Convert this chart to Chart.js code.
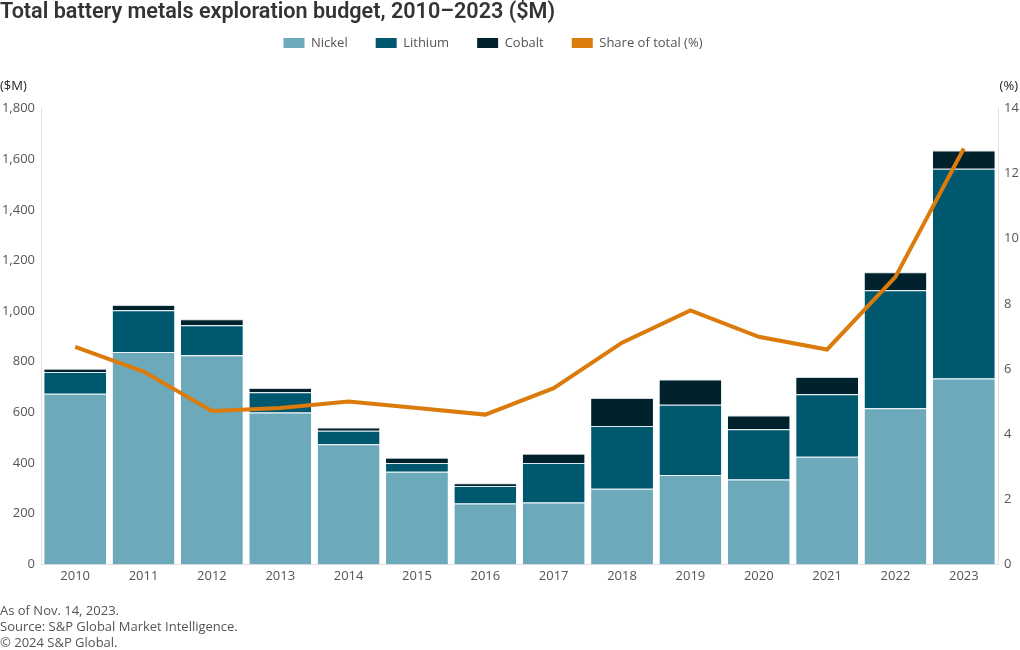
<!DOCTYPE html>
<html><head><meta charset="utf-8">
<script src="https://cdn.jsdelivr.net/npm/chart.js@4/dist/chart.umd.min.js"></script>
<style>html,body{margin:0;padding:0;background:#fff;} #wrap{position:relative;width:1020px;height:650px;}</style>
</head><body><div id="wrap"><canvas id="c" width="1020" height="650"></canvas></div>
<script>
const titleText = 'Total battery metals exploration budget, 2010\u20132023 ($M)';
const leftAxisTitle = '($M)';
const rightAxisTitle = '(%)';
const footerLines = ['As of Nov. 14, 2023.', 'Source: S&P Global Market Intelligence.', '\u00a9 2024 S&P Global.'];
const years = ['2010','2011','2012','2013','2014','2015','2016','2017','2018','2019','2020','2021','2022','2023'];
const nickel  = [674, 839, 826, 600, 474, 366, 240, 244, 299, 353, 335, 425, 617, 734];
const lithium = [ 86, 164, 118,  80,  54,  34,  70, 156, 247, 277, 199, 247, 465, 828];
const cobalt  = [ 12,  21,  24,  16,  13,  21,  10,  37, 111, 100,  54,  68,  71,  72];
const share   = [6.68, 5.92, 4.71, 4.80, 5.00, 4.80, 4.60, 5.41, 6.81, 7.80, 6.99, 6.60, 8.83, 12.77];
const leftTicks = [0, 200, 400, 600, 800, 1000, 1200, 1400, 1600, 1800];
const rightTicks = [0, 2, 4, 6, 8, 10, 12, 14];

const FONT = '"Open Sans", Roboto, sans-serif';
const TFONT = 'Roboto, "Open Sans", sans-serif';
const TXT = '#555555';

const extras = {
  id: 'extras',
  beforeInit(chart) {
    const lg = chart.legend;
    const orig = lg.fit;
    lg.fit = function() {
      orig.call(this);
      this.height += 49;
      if (this.lineWidths && this.lineWidths.length) this.lineWidths[0] += 34;
    };
  },
  afterDraw(chart) {
    const ctx = chart.ctx;
    ctx.save();
    ctx.fillStyle = '#333333';
    ctx.font = '600 21.6px ' + TFONT;
    ctx.textBaseline = 'middle';
    ctx.textAlign = 'left';
    ctx.fillText(titleText, 0, 13);
    ctx.fillStyle = '#222222';
    ctx.font = '500 13px ' + FONT;
    ctx.fillText(leftAxisTitle, 0, 86);
    ctx.textAlign = 'right';
    ctx.fillText(rightAxisTitle, 1018, 86);
    ctx.restore();
  }
};

const segBorder = {top: 1, left: 0, right: 0, bottom: 0};
new Chart(document.getElementById('c'), {
  type: 'bar',
  data: {
    labels: years,
    datasets: [
      {label: 'Nickel', data: nickel, backgroundColor: '#6CAABB', borderColor: 'rgba(220,235,240,0.5)', borderWidth: segBorder, borderSkipped: false, stack: 's', order: 1, barPercentage: 0.905, categoryPercentage: 1},
      {label: 'Lithium', data: lithium, backgroundColor: '#00586F', borderColor: 'rgba(200,220,230,0.6)', borderWidth: segBorder, borderSkipped: false, stack: 's', order: 1, barPercentage: 0.905, categoryPercentage: 1},
      {label: 'Cobalt', data: cobalt, backgroundColor: '#00222C', borderColor: 'rgba(180,190,195,0.6)', borderWidth: segBorder, borderSkipped: false, stack: 's', order: 1, barPercentage: 0.905, categoryPercentage: 1},
      {type: 'line', label: 'Share of total (%)', data: share, yAxisID: 'y1', borderColor: '#DA7B0B', backgroundColor: '#DA7B0B', borderWidth: 4, pointRadius: 0, tension: 0, order: 0, borderJoinStyle: 'miter'}
    ]
  },
  options: {
    responsive: false,
    animation: false,
    layout: {padding: {top: 8.5, left: 0, right: 0, bottom: 0}},
    plugins: {
      legend: {
        position: 'top', align: 'center',
        labels: {
          boxWidth: 21, boxHeight: 10, padding: 28,
          color: TXT, font: {family: FONT, size: 13},
          sort: (a, b) => a.datasetIndex - b.datasetIndex,
          generateLabels(chart) {
            return chart.data.datasets.map((d, i) => ({
              text: d.label, fillStyle: d.backgroundColor, strokeStyle: d.backgroundColor,
              lineWidth: 0, hidden: false, datasetIndex: i, fontColor: TXT
            }));
          }
        }
      },
      title: {display: false},
      subtitle: {
        display: true, position: 'bottom', align: 'start',
        text: footerLines, color: TXT,
        font: {family: FONT, size: 13, lineHeight: '16px'},
        padding: {top: 15, bottom: -1}
      },
      tooltip: {enabled: false}
    },
    scales: {
      x: {
        stacked: true,
        grid: {display: false, drawTicks: false},
        border: {display: true, color: '#e2e2e2'},
        ticks: {color: TXT, font: {family: FONT, size: 13}, padding: 4, maxRotation: 0}
      },
      y: {
        stacked: true, min: 0, max: 1800,
        afterBuildTicks(s) { s.ticks = leftTicks.map(v => ({value: v})); },
        afterFit(s) { s.width = 41; },
        grid: {display: false, drawTicks: false},
        border: {display: true, color: '#e2e2e2'},
        ticks: {color: TXT, font: {family: FONT, size: 13}, padding: 6, callback: v => v.toLocaleString('en-US')}
      },
      y1: {
        position: 'right', min: 0, max: 14,
        afterBuildTicks(s) { s.ticks = rightTicks.map(v => ({value: v})); },
        afterFit(s) { s.width = 22; },
        grid: {display: false, drawTicks: false},
        border: {display: true, color: '#e2e2e2'},
        ticks: {color: TXT, font: {family: FONT, size: 13}, padding: 6}
      }
    }
  },
  plugins: [extras]
});
</script></body></html>
